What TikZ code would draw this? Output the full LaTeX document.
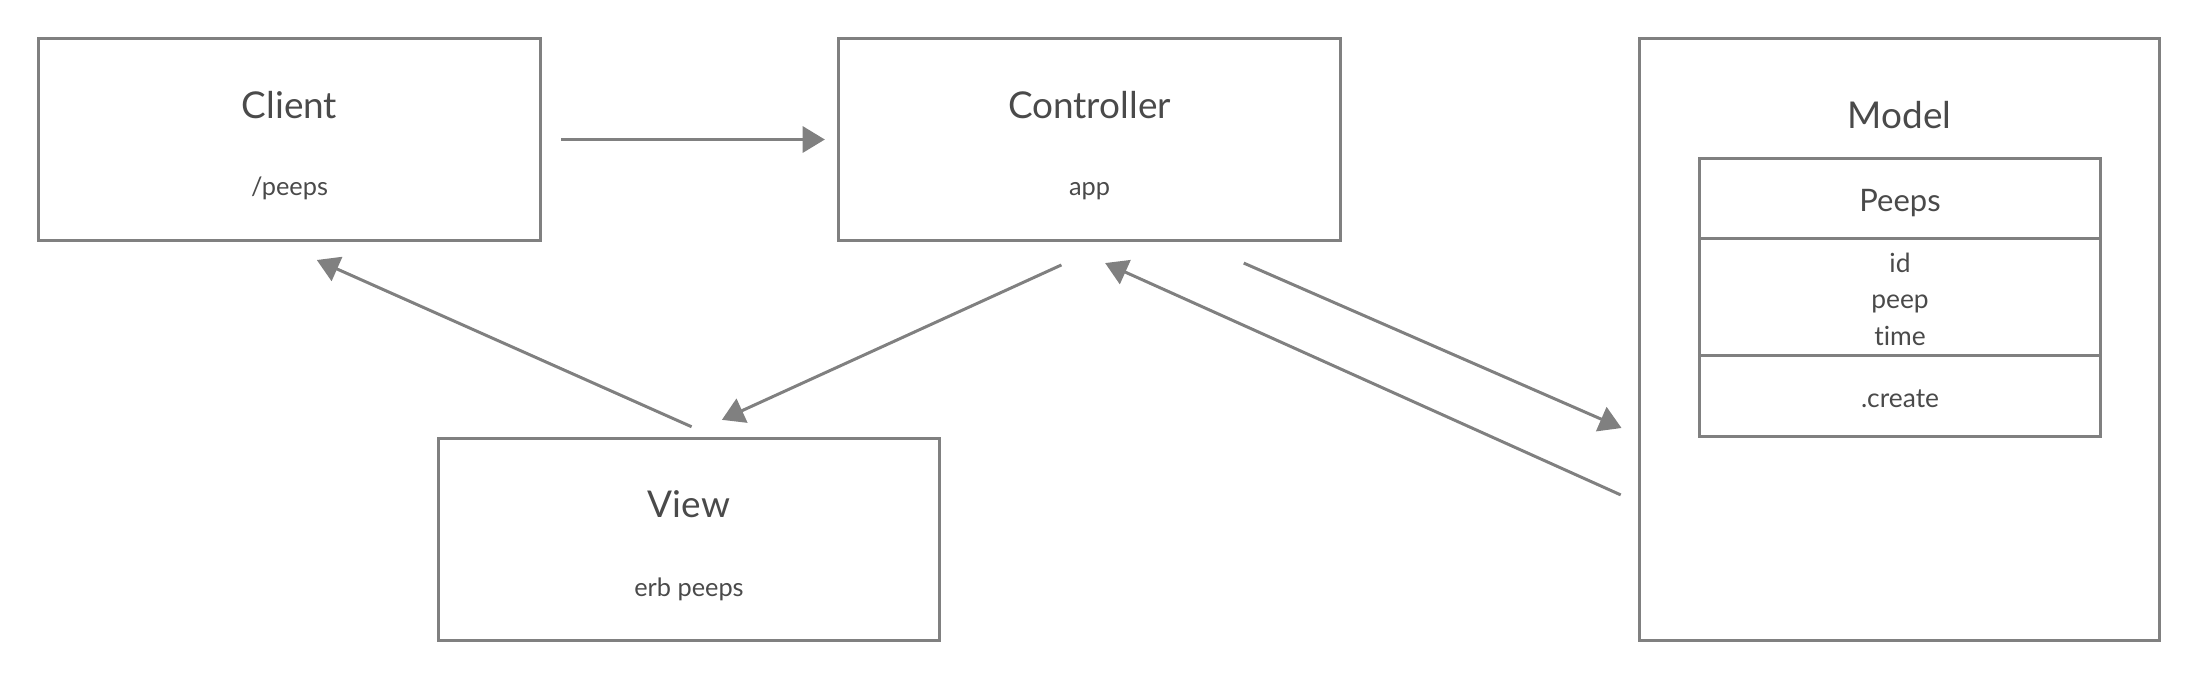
\documentclass[tikz,border=0pt]{standalone}
\usepackage{fontspec}
\setmainfont{Lato}[Ligatures=NoCommon]
\usetikzlibrary{arrows.meta,positioning,calc}
\definecolor{edgegray}{HTML}{808080}
\definecolor{inkgray}{HTML}{4A4A4A}

\begin{document}
\begin{tikzpicture}[x=0.01cm, y=-0.01cm, every node/.style={text=inkgray},
	box/.style={draw=edgegray, line width=0.85pt, minimum width=5.01cm, minimum height=2.01cm, inner sep=0pt, outer sep=0pt},
	ttl/.style={anchor=base, font=\fontsize{10.5}{12}\selectfont},
	sub/.style={anchor=base, font=\fontsize{7.2}{9}\selectfont},
	part/.style={draw=edgegray, line width=0.85pt, minimum width=4cm, inner sep=0pt, outer sep=0pt},
	fld/.style={anchor=base, font=\fontsize{7.5}{9}\selectfont},
	arr/.style={draw=edgegray, line width=0.85pt, -{Triangle[length=6.3pt, width=7.4pt]}}]
	\useasboundingbox (0,0) rectangle (2201,681);
	\node[box] (client) at (289.5,139.5) {}; \node[ttl] (client-t) at (289.5,118) {Client}; \node[sub] (client-s) at (289.5,195) {/peeps};
	\node[box] (ctrl) at (1089.5,139.5) {}; \node[ttl] (ctrl-t) at (1089.5,118) {Controller}; \node[sub] (ctrl-s) at (1089.5,195) {app};
	\node[box] (view) at (689,539.5) {}; \node[ttl] (view-t) at (689,517) {View}; \node[sub] (view-s) at (689,596) {erb peeps};
	\node[box, minimum width=5.19cm, minimum height=6.01cm] (model) at (1899.5,339.5) {};
	\node[ttl] (model-t) at (1899.5,128) {Model};
	\node[part, minimum height=0.79cm] (peeps) at (1900,198.5) {};
	\node[part, minimum height=1.17cm, below=0pt of peeps] (fields) {};
	\node[part, minimum height=0.81cm, below=0pt of fields] (methods) {};
	\node[anchor=base, font=\fontsize{8.8}{10}\selectfont] (peeps-t) at (1900,211) {Peeps};
	\foreach \f/\yy in {id/272, peep/308.5, time/345}
		\node[fld] (f-\f) at (1900,\yy) {\f};
	\node[fld] (m-create) at (1900,407.5) {.create};
	\draw[arr, shorten <=0.21cm, shorten >=0.14cm] (client.east) -- (ctrl.west);
	\draw[arr, shorten <=0.60cm, shorten >=0.46cm] ($(ctrl.south)+(26.5,0)$) -- ($(view.north)+(-9,0)$);
	\draw[arr, shorten <=0.30cm, shorten >=0.49cm] ($(view.north)+(30,0)$) -- ($(client.south)+(-17.5,0)$);
	\draw[arr, shorten <=0.575cm, shorten >=0.20cm] ($(ctrl.south)+(101.5,0)$) -- ($(model.west)+(0,96.5)$);
	\draw[arr, shorten <=0.21cm, shorten >=0.56cm] ($(model.west)+(0,164)$) -- ($(ctrl.south)+(-35.5,0)$);
\end{tikzpicture}
\end{document}
